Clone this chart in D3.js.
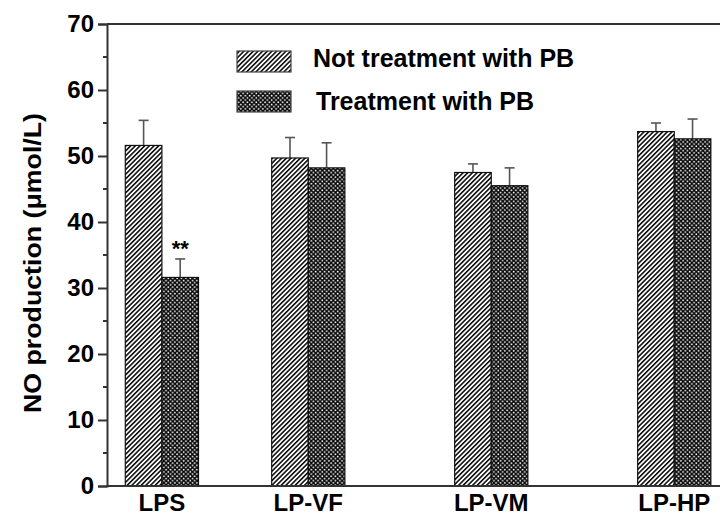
<!DOCTYPE html>
<html>
<head>
<meta charset="utf-8">
<script src="https://cdn.jsdelivr.net/npm/d3@7"></script>
<style>
  body { margin: 0; background: #fff; }
  text { font-family: 'Liberation Sans', Arial, sans-serif; font-weight: bold; fill: #000; }
</style>
</head>
<body>
<div id="chart"></div>
<script>
// data
var categories = ['LPS', 'LP-VF', 'LP-VM', 'LP-HP'];
var positions = [1, 1.8, 2.8, 3.8];
var notTreated = [51.6, 49.7, 47.5, 53.7];
var notTreatedErr = [3.8, 3.1, 1.3, 1.3];
var treated = [31.6, 48.2, 45.5, 52.6];
var treatedErr = [2.8, 3.8, 2.7, 3.0];
var yTicks = [0, 10, 20, 30, 40, 50, 60, 70];
var yMinor = [5, 15, 25, 35, 45, 55, 65];
var seriesNames = ['Not treatment with PB', 'Treatment with PB'];

var width = 720, height = 515;
var plotLeft = 107, plotTop = 24, plotBottom = 486;

var svg = d3.select('#chart').append('svg')
  .attr('width', width)
  .attr('height', height);

svg.append('rect').attr('width', width).attr('height', height).attr('fill', '#fff');

var defs = svg.append('defs');
// diagonal hatch
var hatch = defs.append('pattern')
  .attr('id', 'hatch')
  .attr('patternUnits', 'userSpaceOnUse')
  .attr('width', 3.3).attr('height', 3.3)
  .attr('patternTransform', 'rotate(45)');
hatch.append('rect').attr('width', 3.3).attr('height', 3.3).attr('fill', '#fff');
hatch.append('rect').attr('width', 1.6).attr('height', 3.3).attr('fill', '#111');

// white dots on black
var dots = defs.append('pattern')
  .attr('id', 'dots')
  .attr('patternUnits', 'userSpaceOnUse')
  .attr('width', 4.4).attr('height', 4.4);
dots.append('rect').attr('width', 4.4).attr('height', 4.4).attr('fill', '#0a0a0a');
dots.append('circle').attr('cx', 1.1).attr('cy', 1.1).attr('r', 0.9).attr('fill', '#fff');
dots.append('circle').attr('cx', 3.3).attr('cy', 3.3).attr('r', 0.9).attr('fill', '#fff');

var x = d3.scaleLinear().domain([0.7, 4.05]).range([plotLeft, width]);
var y = d3.scaleLinear().domain([0, 70]).range([plotBottom, plotTop]);
var barW = x(0.2) - x(0);

var groups = categories.map(function (c, i) {
  return { cat: c, pos: positions[i], a: notTreated[i], ae: notTreatedErr[i], b: treated[i], be: treatedErr[i] };
});

// error bars (upper only)
function errBar(cx, v, e) {
  svg.append('line')
    .attr('x1', cx).attr('x2', cx)
    .attr('y1', y(v)).attr('y2', y(v + e))
    .attr('stroke', '#555').attr('stroke-width', 1.6);
  svg.append('line')
    .attr('x1', cx - 5).attr('x2', cx + 5)
    .attr('y1', y(v + e)).attr('y2', y(v + e))
    .attr('stroke', '#555').attr('stroke-width', 1.6);
}

groups.forEach(function (g) {
  errBar(x(g.pos) - barW / 2, g.a, g.ae);
  errBar(x(g.pos) + barW / 2, g.b, g.be);
});

svg.selectAll('rect.barA')
  .data(groups)
  .enter()
  .append('rect')
  .attr('class', 'barA')
  .attr('x', function (d) { return x(d.pos) - barW; })
  .attr('y', function (d) { return y(d.a); })
  .attr('width', barW)
  .attr('height', function (d) { return y(0) - y(d.a); })
  .attr('fill', 'url(#hatch)')
  .attr('stroke', '#111').attr('stroke-width', 1.2);

svg.selectAll('rect.barB')
  .data(groups)
  .enter()
  .append('rect')
  .attr('class', 'barB')
  .attr('x', function (d) { return x(d.pos); })
  .attr('y', function (d) { return y(d.b); })
  .attr('width', barW)
  .attr('height', function (d) { return y(0) - y(d.b); })
  .attr('fill', 'url(#dots)')
  .attr('stroke', '#111').attr('stroke-width', 1.2);

// significance mark
svg.append('text')
  .attr('x', x(positions[0]) + barW / 2)
  .attr('y', y(treated[0] + treatedErr[0]) - 3)
  .attr('text-anchor', 'middle')
  .style('font-size', '22px')
  .text('**');

// axes
var yAxis = d3.axisLeft(y).tickValues(yTicks).tickSize(9).tickPadding(4);
var ya = svg.append('g').attr('transform', 'translate(' + plotLeft + ',0)').call(yAxis);
ya.select('.domain').attr('stroke', '#333').attr('stroke-width', 2);
ya.selectAll('.tick line').attr('stroke', '#333').attr('stroke-width', 2);
ya.selectAll('.tick text').style('font-size', '24px').style('font-family', "'Liberation Sans', Arial, sans-serif").attr('fill', '#000');

svg.append('g').selectAll('line')
  .data(yMinor).enter().append('line')
  .attr('x1', plotLeft - 4).attr('x2', plotLeft)
  .attr('y1', function (d) { return y(d); })
  .attr('y2', function (d) { return y(d); })
  .attr('stroke', '#333').attr('stroke-width', 2);

// bottom and top frame lines
svg.append('line').attr('x1', plotLeft).attr('x2', width).attr('y1', y(0)).attr('y2', y(0))
  .attr('stroke', '#333').attr('stroke-width', 2);
svg.append('line').attr('x1', plotLeft).attr('x2', width).attr('y1', y(70)).attr('y2', y(70))
  .attr('stroke', '#333').attr('stroke-width', 2);

// category labels
svg.selectAll('text.cat')
  .data(groups)
  .enter()
  .append('text')
  .attr('class', 'cat')
  .attr('x', function (d) { return x(d.pos); })
  .attr('y', 511)
  .attr('text-anchor', 'middle')
  .style('font-size', '24px')
  .text(function (d) { return d.cat; });

// y title
svg.append('text')
  .attr('transform', 'translate(41,263) rotate(-90)')
  .attr('text-anchor', 'middle')
  .attr('textLength', 300)
  .attr('lengthAdjust', 'spacingAndGlyphs')
  .style('font-size', '23px')
  .text('NO production (\u03bcmol/L)');

// legend
var legend = svg.append('g');
var legendFills = ['url(#hatch)', 'url(#dots)'];
var legendRows = [{ sy: 51, ty: 67, tx: 313 }, { sy: 91, ty: 110, tx: 316 }];
seriesNames.forEach(function (name, i) {
  legend.append('rect')
    .attr('x', 237).attr('y', legendRows[i].sy)
    .attr('width', 54).attr('height', 21)
    .attr('fill', legendFills[i])
    .attr('stroke', '#444').attr('stroke-width', 1.2);
  legend.append('text')
    .attr('x', legendRows[i].tx).attr('y', legendRows[i].ty)
    .style('font-size', '25px')
    .text(name);
});
</script>
</body>
</html>
